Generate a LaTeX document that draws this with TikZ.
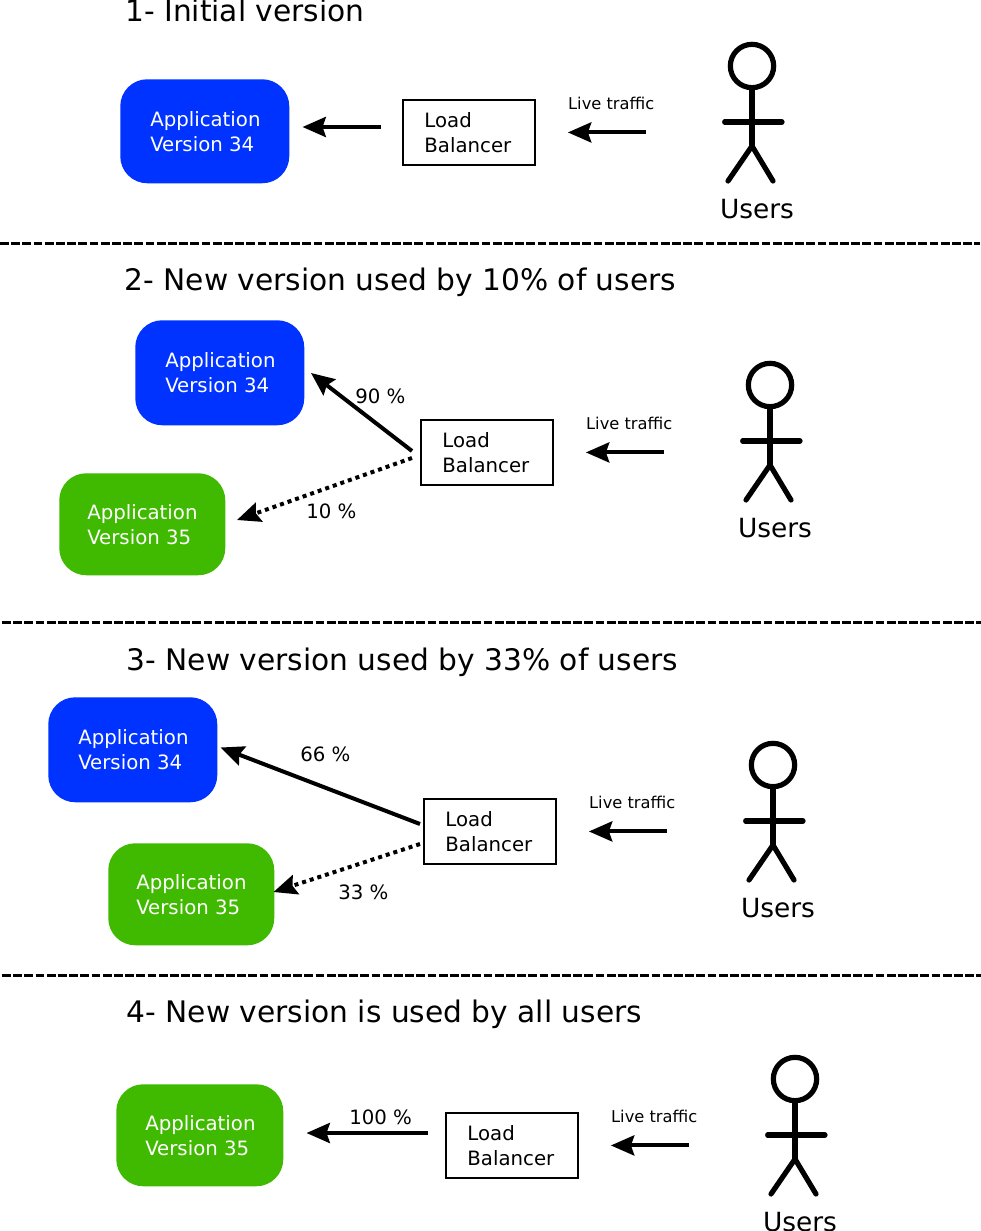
\documentclass[tikz,border=0pt]{standalone}
\usepackage{fontspec}
\setmainfont{DejaVu Sans}
\usetikzlibrary{arrows.meta}
\definecolor{appblue}{HTML}{0033FF}
\definecolor{appgreen}{HTML}{3FBA00}
\newcommand{\pxfont}[2]{\fontsize{#1}{#2}\selectfont}
\tikzset{
  x=0.75pt,y=-0.75pt,
  appbox/.style={rounded corners=20.25pt,text=white,inner sep=0pt,anchor=north west,align=left,font=\pxfont{14.8pt}{18.6pt}},
  lbbox/.style={draw=black,line width=1.9pt,minimum width=99pt,minimum height=49pt,inner sep=0pt,anchor=north west,align=left,font=\pxfont{14.8pt}{18.6pt}},
  title/.style={anchor=base west,inner sep=0pt,font=\pxfont{22.25pt}{26pt}},
  pct/.style={anchor=base west,inner sep=0pt,font=\pxfont{14.8pt}{18pt}},
  live/.style={anchor=base west,inner sep=0pt,font=\pxfont{12.2pt}{15pt}},
  userlabel/.style={anchor=base,inner sep=0pt,font=\pxfont{19.8pt}{24pt}},
  limb/.style={draw=black,line width=3.9pt,line cap=round},
  flow/.style={draw=black,line width=3pt,-{Stealth[length=17.5pt,width=15pt,inset=2.5pt]}},
  dotflow/.style={flow,dash pattern=on 3pt off 3pt},
  sep/.style={draw=black,line width=2.2pt,dash pattern=on 6.6pt off 1.8pt},
}
\newcommand{\appnode}[8]{% name,x,y,w,h,colour,version,text offset
  \node[appbox,fill=#6,minimum width=#4*0.75pt,minimum height=#5*0.75pt] (#1) at (#2,#3) {};
  \node[anchor=west,inner sep=0pt,align=left,text=white,font=\pxfont{14.8pt}{18.6pt}] (#1t) at ([xshift=#8]#1.west) {Application\\Version #7};
}
\newcommand{\lbnode}[3]{% name,x,y
  \node[lbbox] (#1) at (#2,#3) {};
  \node[anchor=west,inner sep=0pt,align=left,font=\pxfont{14.8pt}{18.6pt}] (#1t) at ([xshift=17pt,yshift=-0.2pt]#1.west) {Load\\Balancer};
  \coordinate (#1from) at ([xshift=82.65pt]#1.east);
  \coordinate (#1to) at ([xshift=23.9pt]#1.east);
  \draw[flow] (#1from) -- (#1to);
  \node[live] (#1live) at ([xshift=23.9pt,yshift=17.25pt]#1.east) {Live traffic};
}
\newcommand{\usernode}[3]{% name, head x, head y
  \node[circle,draw=black,line width=3.9pt,minimum size=32.5pt,inner sep=0pt] (#1) at (#2,#3) {};
  \coordinate (#1w) at ([yshift=-42pt]#1.center);
  \coordinate (#1hip) at ([yshift=-60pt]#1.center);
  \coordinate (#1la) at ([xshift=-20.5pt,yshift=-42pt]#1.center);
  \coordinate (#1ra) at ([xshift=22.5pt,yshift=-42pt]#1.center);
  \coordinate (#1ll) at ([xshift=-18pt,yshift=-86.25pt]#1.center);
  \coordinate (#1rl) at ([xshift=15.75pt,yshift=-86.25pt]#1.center);
  \draw[limb] (#1.south) -- (#1hip);
  \draw[limb] (#1la) -- (#1ra);
  \draw[limb] (#1ll) -- (#1hip) -- (#1rl);
  \node[userlabel] (#1l) at ([xshift=3.75pt,yshift=-114pt]#1.center) {Users};
}
\begin{document}
\begin{tikzpicture}
\useasboundingbox (0,0) rectangle (981,1231);
% panel 1
\node[title] (t1) at (125,22) {1- Initial version};
\appnode{a1}{120}{79}{169}{104}{appblue}{34}{22.5pt}
\lbnode{lb1}{401.5}{98.5}
\usernode{u1}{752}{66}
\coordinate (p1s) at (381,127); \coordinate (p1e) at (302.5,127);
\draw[flow] (p1s) -- (p1e);
\coordinate (s1a) at (0,243.5); \coordinate (s1b) at (980,243.5);
\draw[sep] (s1a) -- (s1b);
% panel 2
\node[title] (t2) at (124.5,290) {2- New version used by 10\% of users};
\appnode{a2}{135}{320}{169}{105}{appblue}{34}{22.5pt}
\appnode{b2}{59}{473}{166}{102}{appgreen}{35}{21pt}
\lbnode{lb2}{419.5}{418.5}
\usernode{u2}{770}{385}
\coordinate (p2a) at (412,451); \coordinate (p2b) at (311,373);
\draw[flow] (p2a) -- (p2b);
\coordinate (p2c) at (412,458); \coordinate (p2d) at (237,520);
\draw[flow,dotflow] (p2c) -- (p2d);
\node[pct] (n90) at (355,403) {90 \%};
\node[pct] (n10) at (306,518) {10 \%};
\coordinate (s2a) at (2,622.5); \coordinate (s2b) at (981,622.5);
\draw[sep] (s2a) -- (s2b);
% panel 3
\node[title] (t3) at (126.5,670) {3- New version used by 33\% of users};
\appnode{a3}{48}{697}{169}{105}{appblue}{34}{22.5pt}
\appnode{b3}{108}{843}{166}{102}{appgreen}{35}{21pt}
\lbnode{lb3}{422.5}{797.5}
\usernode{u3}{773}{765}
\coordinate (p3a) at (420,824); \coordinate (p3b) at (220.5,747.5);
\draw[flow] (p3a) -- (p3b);
\coordinate (p3c) at (420,844); \coordinate (p3d) at (273.5,892);
\draw[flow,dotflow] (p3c) -- (p3d);
\node[pct] (n66) at (300,761) {66 \%};
\node[pct] (n33) at (338,899) {33 \%};
\coordinate (s3a) at (2,975.5); \coordinate (s3b) at (981,975.5);
\draw[sep] (s3a) -- (s3b);
% panel 4
\node[title] (t4) at (126.5,1022) {4- New version is used by all users};
\appnode{a4}{116}{1084}{167}{102}{appgreen}{35}{21.75pt}
\lbnode{lb4}{444.5}{1111.5}
\usernode{u4}{795}{1079}
\coordinate (p4s) at (428,1133); \coordinate (p4e) at (306.5,1133);
\draw[flow] (p4s) -- (p4e);
\node[pct] (n100) at (349,1124) {100 \%};
\end{tikzpicture}
\end{document}
